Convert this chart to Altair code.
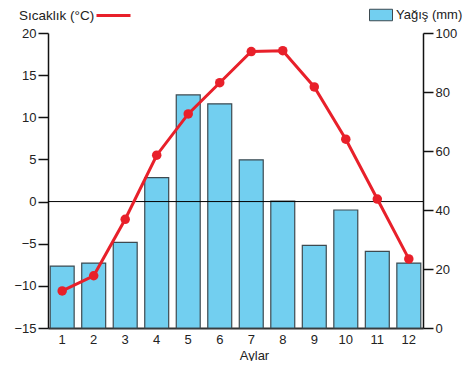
import altair as alt
import pandas as pd

months = [str(i) for i in range(1, 13)]
precip = [21, 22, 29, 51, 79, 76, 57, 43, 28, 40, 26, 22]
temp = [-10.6, -8.8, -2.1, 5.5, 10.4, 14.1, 17.8, 17.9, 13.6, 7.4, 0.3, -6.8]

df = pd.DataFrame({"ay": months, "yagis": precip, "sicaklik": temp})

FONT = "Liberation Sans"
RED = "#e8202a"
BLUE = "#72cff0"

xenc = alt.X(
    "ay:O",
    sort=months,
    scale=alt.Scale(paddingInner=0.24, paddingOuter=0.07),
    axis=alt.Axis(
        title="Aylar", labelAngle=0, ticks=False, labelPadding=5,
        domainColor="#333333", domainWidth=2, titleX=206, titlePadding=3,
        titleFontWeight="normal",
    ),
)

bars = alt.Chart(df).mark_bar(stroke="#3d4a50", strokeWidth=1.2).encode(
    x=xenc,
    y=alt.Y(
        "yagis:Q",
        scale=alt.Scale(domain=[0, 100], nice=False),
        axis=alt.Axis(orient="right", values=[0, 20, 40, 60, 80, 100], title=None,
                      tickSize=10, labelPadding=2, grid=False),
    ),
    fill=alt.Fill(
        "seri:N",
        scale=alt.Scale(domain=["Yağış (mm)"], range=[BLUE]),
        legend=alt.Legend(
            title=None, orient="none", legendX=321, legendY=-30,
            symbolType="M-1,-0.5H1V0.5H-1Z", symbolSize=529,
            symbolStrokeColor="#3d4a50", symbolStrokeWidth=1,
            labelFontSize=13, labelFont=FONT, labelColor="#222222",
            labelOffset=3, padding=0,
        ),
    ),
).transform_calculate(seri="'Yağış (mm)'")

tscale = alt.Scale(domain=[-15, 20], nice=False)

zero = alt.Chart(df).mark_rule(color="black", strokeWidth=1).encode(
    y=alt.Y("z:Q", scale=tscale)
).transform_calculate(z="0").transform_filter("datum.ay == '1'")

line = alt.Chart(df).mark_line(strokeWidth=3).encode(
    x=xenc,
    y=alt.Y(
        "sicaklik:Q", scale=tscale,
        axis=alt.Axis(orient="left", values=[-15, -10, -5, 0, 5, 10, 15, 20], title=None,
                      tickSize=10, labelPadding=2, grid=False),
    ),
    stroke=alt.Stroke(
        "seri:N",
        scale=alt.Scale(domain=["Sıcaklık (°C)"], range=[RED]),
        legend=alt.Legend(
            title="Sıcaklık (°C)", titleOrient="left", orient="none",
            legendX=-29, legendY=-36, symbolType="stroke", symbolSize=1156,
            symbolStrokeWidth=3, labelExpr="''", titleFontSize=13.5,
            titleFont=FONT, titleFontWeight="normal", titleColor="#222222",
            titlePadding=0, padding=0, titleBaseline="line-top", titleLineHeight=14,
        ),
    ),
).transform_calculate(seri="'Sıcaklık (°C)'")

points = alt.Chart(df).mark_circle(size=90, opacity=1, color=RED).encode(
    x=xenc,
    y=alt.Y("sicaklik:Q", scale=tscale),
)

temp_layer = alt.layer(zero, line, points)

chart = alt.layer(bars, temp_layer).resolve_scale(
    y="independent", fill="independent", stroke="independent"
).properties(
    width=375, height=295,
    autosize=alt.AutoSizeParams(type="none"),
    padding={"left": 40, "top": 25, "right": 40, "bottom": 33},
).configure_view(stroke=None).configure_axis(
    labelFont=FONT, titleFont=FONT, labelFontSize=13, titleFontSize=13,
    labelColor="#222222", titleColor="#222222", domainColor="#111111",
    tickColor="#111111", domainWidth=1.5, tickWidth=1.5,
)

chart.save("out.html", embed_options={"renderer": "svg", "actions": False})
